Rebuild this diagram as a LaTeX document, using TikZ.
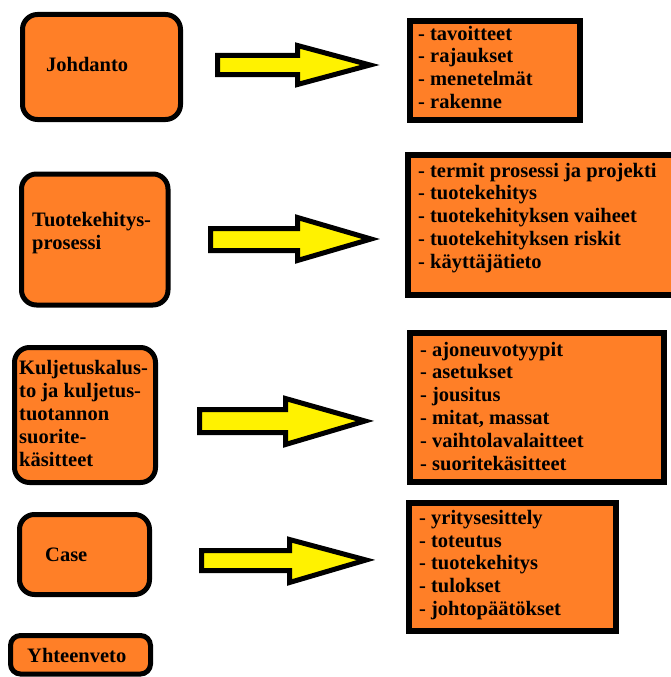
\documentclass[tikz,border=0pt]{standalone}
\usepackage{fontspec}
\setmainfont{Liberation Serif}
\definecolor{boxorange}{HTML}{FF7F27}
\definecolor{arrowyellow}{HTML}{FFF200}
\tikzset{
  lbox/.style={draw=black, fill=boxorange, line width=5pt, rounded corners=15pt, inner sep=0pt, rectangle},
  rbox/.style={draw=black, fill=boxorange, line width=6pt, inner sep=0pt, rectangle},
  bigarrow/.style={draw=black, fill=arrowyellow, line width=5pt, line join=miter, miter limit=12},
  lbl/.style={anchor=base west, inner sep=0pt, align=left, font=\fontsize{20.5pt}{22.8pt}\selectfont\bfseries},
}
\begin{document}
\begin{tikzpicture}[x=1pt,y=-1pt]
\useasboundingbox (0,0) rectangle (671,677);
% left boxes (anchor = baseline of the last line)
\path[lbox] (22.5,14.5) rectangle (180.5,119.5);
\node[lbl] (t1) at (46,71) {Johdanto};
\path[lbox] (21.5,174) rectangle (168,305);
\node[lbl] (t2) at (32,249) {Tuotekehitys-\\prosessi};
\path[lbox] (14.5,347.5) rectangle (155.5,482.5);
\node[lbl] (t3) at (19,466) {Kuljetuskalus-\\to ja kuljetus-\\tuotannon\\suorite-\\käsitteet};
\path[lbox] (19.5,514.5) rectangle (149.5,594.5);
\node[lbl] (t4) at (45,561) {Case};
\path[lbox, rounded corners=10pt] (10.5,635.5) rectangle (150.5,674);
\node[lbl] (t5) at (27,662) {Yhteenveto};
% right boxes
\path[rbox] (410,21) rectangle (580,120);
\node[lbl] (r1) at (418,108.4) {- tavoitteet\\- rajaukset\\- menetelmät\\- rakenne};
\path[rbox] (408,155) rectangle (676,295);
\node[lbl] (r2) at (418,268.2) {- termit prosessi ja projekti\\- tuotekehitys\\- tuotekehityksen vaiheet\\- tuotekehityksen riskit\\- käyttäjätieto};
\path[rbox] (410,333) rectangle (664,482);
\node[lbl] (r3) at (420,470) {- ajoneuvotyypit\\- asetukset\\- jousitus\\- mitat, massat\\- vaihtolavalaitteet\\- suoritekäsitteet};
\path[rbox] (409,503) rectangle (616,631);
\node[lbl] (r4) at (419,615.5) {- yritysesittely\\- toteutus\\- tuotekehitys\\- tulokset\\- johtopäätökset};
% arrows
\draw[bigarrow] (217.5,55.5) -- (297.5,55.5) -- (297.5,45.5) -- (370,65) -- (297.5,84.5) -- (297.5,74.5) -- (217.5,74.5) -- cycle;
\draw[bigarrow] (210.5,228.5) -- (297.5,228.5) -- (297.5,217.5) -- (371,239) -- (297.5,260.5) -- (297.5,250.5) -- (210.5,250.5) -- cycle;
\draw[bigarrow] (199.5,409.5) -- (285.5,409.5) -- (285.5,398.5) -- (365,421) -- (285.5,444.5) -- (285.5,432.5) -- (199.5,432.5) -- cycle;
\draw[bigarrow] (201.5,550.5) -- (289.5,550.5) -- (289.5,539.5) -- (366,560) -- (289.5,582.5) -- (289.5,570.5) -- (201.5,570.5) -- cycle;
\end{tikzpicture}
\end{document}
